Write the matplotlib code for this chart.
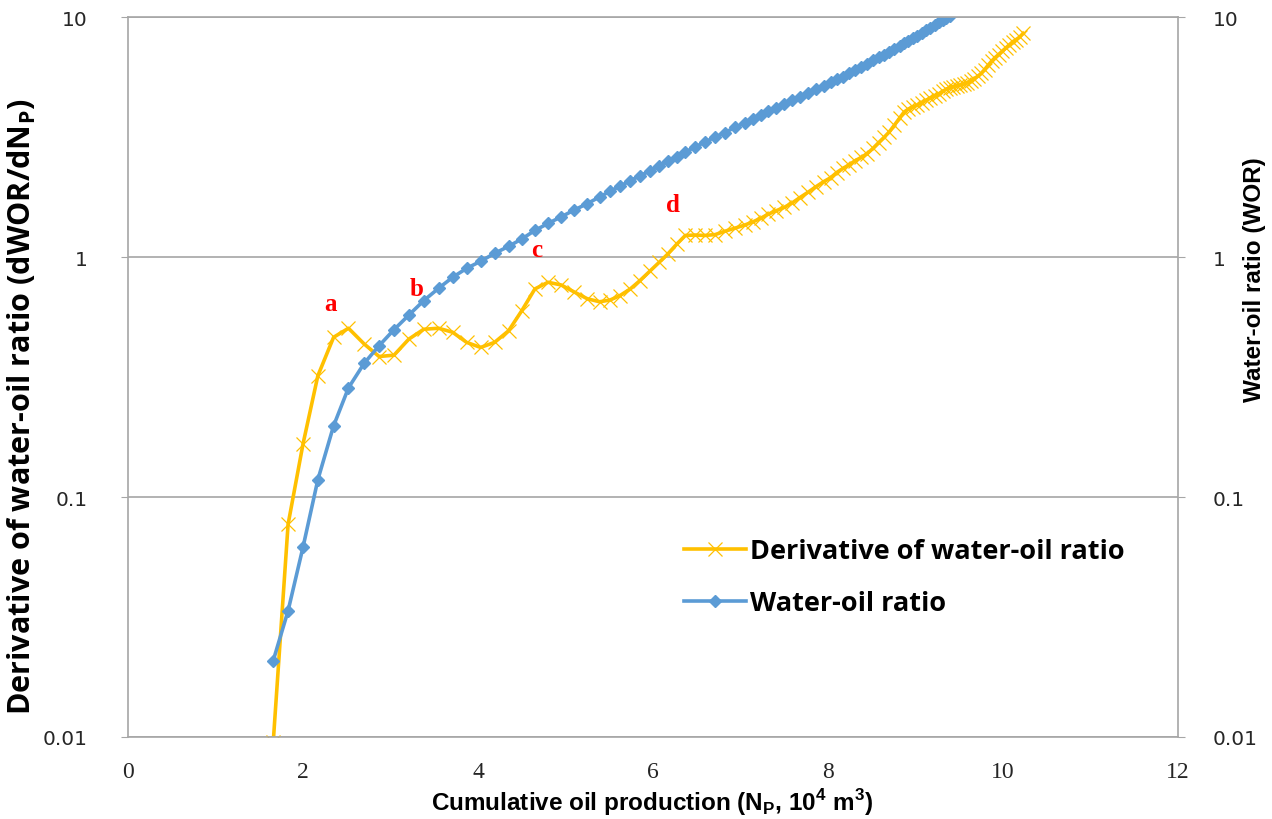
"""Water-oil ratio and its derivative versus cumulative oil production."""

import matplotlib

matplotlib.use("Agg")
import matplotlib.pyplot as plt
from matplotlib.ticker import FixedLocator, FuncFormatter, NullLocator

# Cumulative oil production, 10^4 m3 (shared by both series)
np_cum = [
    1.66, 1.83, 2.00, 2.17, 2.35, 2.52, 2.70, 2.87, 3.04, 3.21, 3.38, 3.55,
    3.71, 3.87, 4.03, 4.19, 4.35, 4.50, 4.65, 4.80, 4.95, 5.10, 5.25, 5.39,
    5.51, 5.62, 5.74, 5.85, 5.97, 6.07, 6.17, 6.27, 6.37, 6.48, 6.59, 6.71,
    6.82, 6.94, 7.05, 7.14, 7.23, 7.32, 7.41, 7.50, 7.59, 7.68, 7.77, 7.86,
    7.95, 8.03, 8.10, 8.17, 8.24, 8.31, 8.38, 8.45, 8.52, 8.58, 8.64, 8.70,
    8.76, 8.82, 8.87, 8.92, 8.97, 9.02, 9.07, 9.12, 9.17, 9.22, 9.27, 9.31,
    9.35, 9.39, 9.43, 9.47, 9.51, 9.55, 9.59, 9.63, 9.67, 9.71, 9.75, 9.79,
    9.83, 9.87, 9.91, 9.95, 9.99, 10.03, 10.07, 10.11, 10.15, 10.19, 10.23,
]

# Water-oil ratio (runs off the top of the axis after ~9.4)
wor = [
    0.0208, 0.0336, 0.0617, 0.118, 0.198, 0.285, 0.361, 0.427, 0.498, 0.573,
    0.658, 0.741, 0.823, 0.897, 0.960, 1.036, 1.108, 1.189, 1.29, 1.38,
    1.47, 1.57, 1.67, 1.78, 1.88, 1.97, 2.08, 2.18, 2.29, 2.40,
    2.51, 2.62, 2.74, 2.87, 3.01, 3.16, 3.30, 3.47, 3.63, 3.76,
    3.90, 4.05, 4.19, 4.34, 4.50, 4.66, 4.83, 5.00, 5.18, 5.35,
    5.50, 5.65, 5.82, 6.00, 6.19, 6.39, 6.61, 6.79, 6.98, 7.18,
    7.38, 7.59, 7.76, 7.94, 8.15, 8.36, 8.57, 8.79, 9.02, 9.27,
    9.51, 9.70, 9.91, 10.12,
]

# Derivative of water-oil ratio, dWOR/dNp
dwor = [
    0.0095, 0.077, 0.166, 0.32, 0.463, 0.505, 0.434, 0.385, 0.39, 0.455,
    0.50, 0.505, 0.486, 0.441, 0.42, 0.441, 0.493, 0.597, 0.736, 0.785,
    0.765, 0.715, 0.67, 0.651, 0.662, 0.69, 0.736, 0.797, 0.877, 0.95,
    1.03, 1.13, 1.23, 1.235, 1.23, 1.24, 1.28, 1.32, 1.36, 1.40,
    1.45, 1.51, 1.56, 1.61, 1.68, 1.77, 1.86, 1.96, 2.06, 2.14,
    2.25, 2.34, 2.42, 2.52, 2.60, 2.70, 2.85, 3.00, 3.15, 3.32,
    3.55, 3.80, 4.02, 4.14, 4.22, 4.30, 4.40, 4.50, 4.60, 4.70,
    4.80, 4.90, 5.00, 5.08, 5.13, 5.17, 5.21, 5.26, 5.33, 5.42,
    5.53, 5.66, 5.82, 6.04, 6.30, 6.55, 6.78, 6.98, 7.20, 7.42,
    7.65, 7.88, 8.06, 8.25, 8.55,
]

# Stage markers a-d on the derivative curve
stage_labels = ["a", "b", "c", "d"]
stage_x = [2.31, 3.30, 4.67, 6.23]
stage_y = [0.64, 0.74, 1.08, 1.66]

y_ticks = [0.01, 0.1, 1, 10]
x_ticks = [0, 2, 4, 6, 8, 10, 12]

ORANGE = "#ffc000"
BLUE = "#5b9bd5"
GRID = "#a6a6a6"
TICK_TEXT = "#262626"
NARROW = ["Liberation Sans", "DejaVu Sans"]
WIDE = ["Open Sans", "DejaVu Sans"]
W, H = 1272, 820

fig = plt.figure(figsize=(W / 100, H / 100), dpi=100)
ax = fig.add_axes([0.1006, 0.1, 0.8255, 0.878])

ax.plot(
    np_cum[: len(dwor)], dwor, color=ORANGE, linewidth=2.6, marker="x",
    markersize=10, markeredgewidth=0.9, label="Derivative of water-oil ratio",
)
ax.plot(
    np_cum[: len(wor)], wor, color=BLUE, linewidth=2.6, marker="D",
    markersize=6.5, label="Water-oil ratio",
)

for lab, sx, sy in zip(stage_labels, stage_x, stage_y):
    ax.text(sx, sy, lab, color="red", fontsize=18, fontweight="bold",
            family="Liberation Serif", ha="center", va="center")

ax.set_yscale("log")
ax.set_xlim(0, 12)
ax.set_ylim(0.01, 10)
ax.xaxis.set_major_locator(FixedLocator(x_ticks))
ax.yaxis.set_major_locator(FixedLocator(y_ticks))
ax.yaxis.set_minor_locator(NullLocator())
ax.yaxis.set_major_formatter(FuncFormatter(lambda v, _: f"{v:g}"))
ax.grid(axis="y", color=GRID, linewidth=1.2)
ax.set_axisbelow(True)
for side in ("left", "right", "bottom", "top"):
    ax.spines[side].set_color(GRID)
    ax.spines[side].set_linewidth(1.2)
ax.tick_params(axis="x", length=0, pad=17, labelsize=17, labelcolor=TICK_TEXT)
ax.tick_params(axis="y", which="both", length=5, color=GRID, pad=24,
               labelsize=14.5, labelcolor=TICK_TEXT)
for t in ax.get_xticklabels():
    t.set_family("Liberation Serif")

# Mirrored WOR axis on the right
ax2 = ax.twinx()
ax2.set_yscale("log")
ax2.set_ylim(ax.get_ylim())
ax2.yaxis.set_major_locator(FixedLocator(y_ticks))
ax2.yaxis.set_minor_locator(NullLocator())
ax2.yaxis.set_major_formatter(FuncFormatter(lambda v, _: f"{v:g}"))
for side in ("left", "right", "bottom", "top"):
    ax2.spines[side].set_visible(False)
ax2.tick_params(axis="y", which="both", length=5, color=GRID, pad=20,
                labelsize=14.5, labelcolor=TICK_TEXT)

# Axis titles placed in figure pixels
fig.text(652 / W, 1 - 803 / H,
         r"Cumulative oil production (N$_\mathregular{P}$, 10$^\mathregular{4}$ m$^\mathregular{3}$)",
         fontsize=17.5, fontweight="bold", family=NARROW, ha="center", va="center")
fig.text(22 / W, 1 - 407 / H,
         r"Derivative of water-oil ratio (dWOR/dN$_\mathregular{P}$)",
         fontsize=22, fontweight="bold", family=WIDE, rotation=90,
         ha="center", va="center")
fig.text(1255 / W, 1 - 280 / H, "Water-oil ratio (WOR)",
         fontsize=17.5, fontweight="bold", family=NARROW, rotation=90,
         ha="center", va="center")

ax.legend(loc="center left", bbox_to_anchor=(0.506, 0.222), frameon=False,
          prop={"family": WIDE, "weight": "bold", "size": 19.5},
          handlelength=2.3, handletextpad=0.15, labelspacing=0.95)

fig.savefig("out.png", dpi=100)
plt.close(fig)
